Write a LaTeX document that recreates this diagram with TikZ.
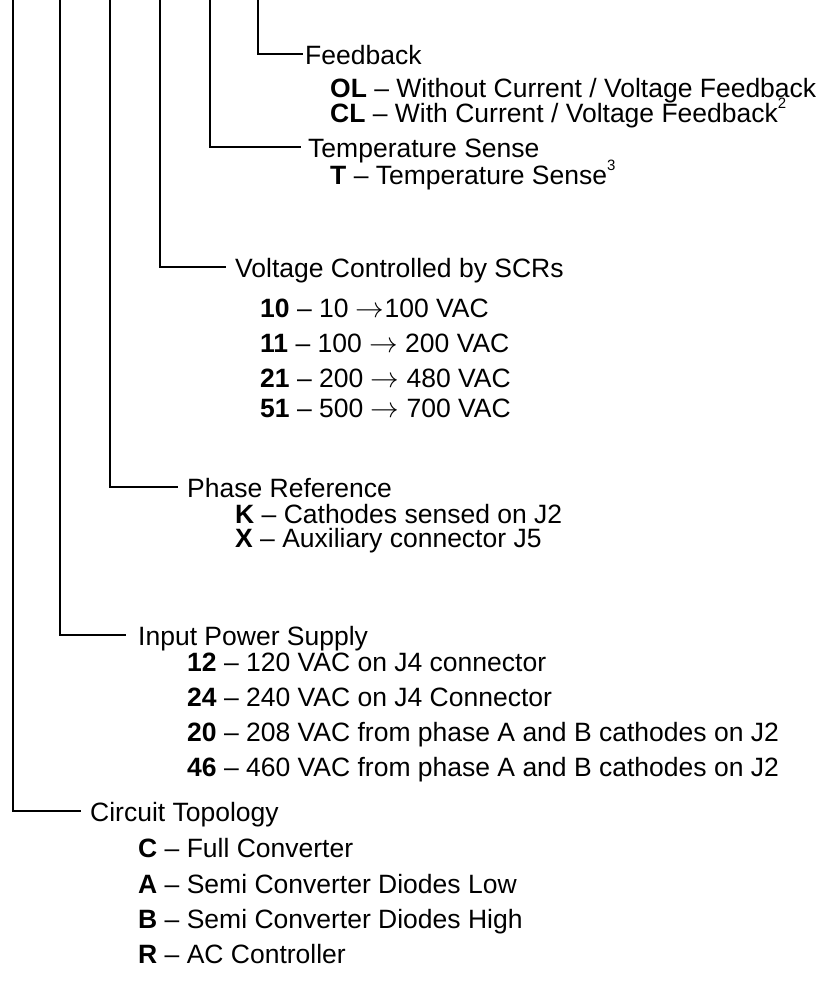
\documentclass[tikz,border=0pt]{standalone}
\usepackage{fontspec}
\setmainfont{Liberation Sans}
\newcommand{\supnum}[1]{\raisebox{0.5em}{\fontsize{15}{15}\selectfont #1}}
\newcommand{\arr}{\scalebox{1.15}{$\rightarrow$}}
\begin{document}
\begin{tikzpicture}[x=1pt,y=-1pt,
  lead/.style={line width=2.2pt,line join=miter,line cap=rect},
  head/.style={anchor=base west,inner sep=0pt,font=\fontsize{26.5}{30}\selectfont},
  item/.style={anchor=base west,inner sep=0pt,font=\fontsize{26.5}{30}\selectfont}]
\useasboundingbox (0,0) rectangle (825,982);
% top ends of the leads
\coordinate (t1) at (13,0);
\coordinate (t2) at (60,0);
\coordinate (t3) at (110,0);
\coordinate (t4) at (160,0);
\coordinate (t5) at (210,0);
\coordinate (t6) at (258,0);
% headings
\node[head] (fb) at (305,64) {Feedback};
\node[head] (ts) at (308,157) {Temperature Sense};
\node[head] (scr) at (235,277) {Voltage Controlled by SCRs};
\node[head] (ph) at (187,497) {Phase Reference};
\node[head] (ip) at (138,645) {Input Power Supply};
\node[head] (ct) at (90,821) {Circuit Topology};
% leads
\draw[lead] (t6) |- ([xshift=-3pt,yshift=10pt]fb.base west);
\draw[lead] (t5) |- ([xshift=-8pt,yshift=10pt]ts.base west);
\draw[lead] (t4) |- ([xshift=-10pt,yshift=10pt]scr.base west);
\draw[lead] (t3) |- ([xshift=-10pt,yshift=10pt]ph.base west);
\draw[lead] (t2) |- ([xshift=-13pt,yshift=10pt]ip.base west);
\draw[lead] (t1) |- ([xshift=-10pt,yshift=10pt]ct.base west);
% items
\node[item] (ol) at (330,97) {\textbf{OL} -- Without Current / Voltage Feedback};
\node[item] (cl) at (330,122) {\textbf{CL} -- With Current / Voltage Feedback\supnum{2}};
\node[item] (tt) at (330,184) {\textbf{T} -- Temperature Sense\supnum{3}};
\node[item] (v10) at (260,317) {\textbf{10} -- 10 \arr100 VAC};
\node[item] (v11) at (260,352) {\textbf{11} -- 100 \arr{} 200 VAC};
\node[item] (v21) at (260,387) {\textbf{21} -- 200 \arr{} 480 VAC};
\node[item] (v51) at (260,417) {\textbf{51} -- 500 \arr{} 700 VAC};
\node[item] (pk) at (235,523) {\textbf{K} -- Cathodes sensed on J2};
\node[item] (px) at (235,547) {\textbf{X} -- Auxiliary connector J5};
\node[item] (i12) at (187,671) {\textbf{12} -- 120 VAC on J4 connector};
\node[item] (i24) at (187,706) {\textbf{24} -- 240 VAC on J4 Connector};
\node[item] (i20) at (187,741) {\textbf{20} -- 208 VAC from phase A and B cathodes on J2};
\node[item] (i46) at (187,776) {\textbf{46} -- 460 VAC from phase A and B cathodes on J2};
\node[item] (cc) at (138,857) {\textbf{C} -- Full Converter};
\node[item] (ca) at (138,893) {\textbf{A} -- Semi Converter Diodes Low};
\node[item] (cb) at (138,928) {\textbf{B} -- Semi Converter Diodes High};
\node[item] (cr) at (138,963) {\textbf{R} -- AC Controller};
\end{tikzpicture}
\end{document}
